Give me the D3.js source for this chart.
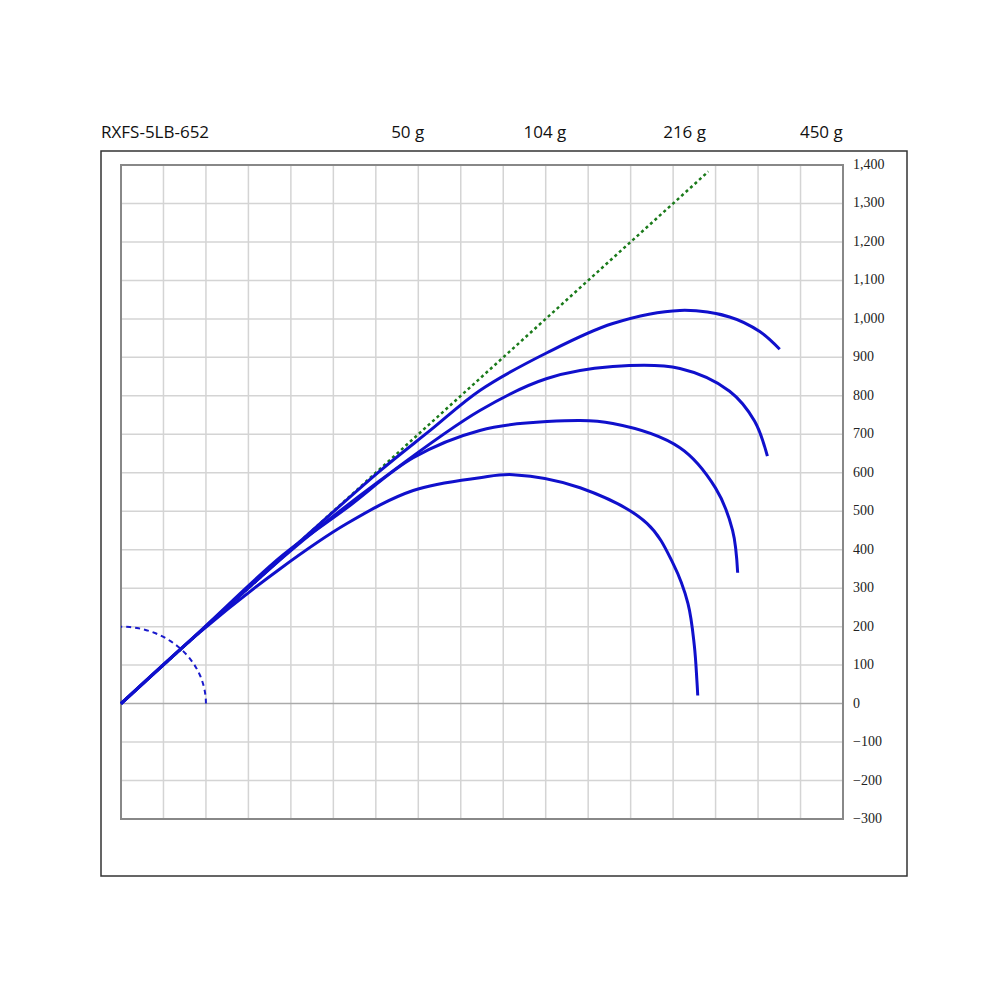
<!DOCTYPE html>
<html><head><meta charset="utf-8">
<script src="https://cdn.jsdelivr.net/npm/d3@7"></script>
<style>body{margin:0;background:#fff}</style>
</head><body>
<script>
// curve points [x, y] in chart units
const curve50 = [[0,0],[186,186],[374,350],[532,468],[688,554],[845,587],[923,595],[1081,561],[1239,468],[1300,364],[1335,260],[1350,150],[1356,60],[1358,21]];
const curve104 = [[0,0],[186,188],[380,385],[532,509],[688,639],[845,710],[1003,733],[1158,728],[1316,665],[1400,560],[1440,450],[1452,340]];
const curve216 = [[0,0],[200,201],[400,398],[610,580],[845,762],[1003,845],[1158,876],[1316,871],[1433,812],[1492,734],[1522,643]];
const curve450 = [[0,0],[200,201],[400,400],[610,605],[728,710],[845,814],[1003,912],[1158,988],[1316,1022],[1433,1005],[1504,967],[1551,921]];
const guideLine = [[0,0],[1383,1383]];
const arcRadius = 200;
const topLabels = ["50 g","104 g","216 g","450 g"];
const topLabelX = [675,998,1327,1649];
const yTicks = d3.range(-300,1401,100);
const title = "RXFS-5LB-652";

const w = 1000, h = 1000;
const svg = d3.select("body").append("svg").attr("width", w).attr("height", h);

const x = d3.scaleLinear().domain([0,1700]).range([121,843]);
const y = d3.scaleLinear().domain([-300,1400]).range([819,165]);

svg.append("rect").attr("x",101).attr("y",151).attr("width",806).attr("height",725)
  .attr("fill","none").attr("stroke","#333").attr("stroke-width",1.5);

// grid
svg.append("g").selectAll("line").data(d3.range(100,1700,100)).enter().append("line")
  .attr("x1",d=>x(d)).attr("x2",d=>x(d)).attr("y1",y(1400)).attr("y2",y(-300))
  .attr("stroke","#d4d4d4").attr("stroke-width",1.5);
svg.append("g").selectAll("line").data(yTicks.slice(1,-1)).enter().append("line")
  .attr("x1",x(0)).attr("x2",x(1700)).attr("y1",d=>y(d)).attr("y2",d=>y(d))
  .attr("stroke",d=>d===0?"#aaa":"#d4d4d4").attr("stroke-width",1.5);
svg.append("rect").attr("x",x(0)).attr("y",y(1400)).attr("width",x(1700)-x(0)).attr("height",y(-300)-y(1400))
  .attr("fill","none").attr("stroke","#888").attr("stroke-width",2);

// y axis labels
svg.append("g").selectAll("text").data(yTicks).enter().append("text")
  .attr("x",853).attr("y",d=>y(d)+4).text(d=>d3.format(",")(d))
  .attr("font-family","Liberation Serif").attr("font-size",14).attr("fill","#222");

svg.append("text").attr("x",101).attr("y",138).text(title)
  .attr("font-family","Open Sans").attr("font-size",17).attr("fill","#111");
svg.append("g").selectAll("text").data(topLabels).enter().append("text")
  .attr("x",(d,i)=>x(topLabelX[i])).attr("y",138).attr("text-anchor","middle").text(d=>d)
  .attr("font-family","Open Sans").attr("font-size",17).attr("fill","#111");

// arc
const arc = d3.range(0,91,3).map(a=>[arcRadius*Math.cos(a*Math.PI/180), arcRadius*Math.sin(a*Math.PI/180)]);
const line = d3.line().x(d=>x(d[0])).y(d=>y(d[1]));
svg.append("path").attr("d",line(arc)).attr("fill","none").attr("stroke","#1a1acc")
  .attr("stroke-width",2).attr("stroke-dasharray","5,4");

svg.append("path").attr("d",line(guideLine)).attr("fill","none").attr("stroke","#1a7a1a")
  .attr("stroke-width",2.5).attr("stroke-dasharray","3,3");

const smooth = d3.line().x(d=>x(d[0])).y(d=>y(d[1])).curve(d3.curveCatmullRom);
svg.append("g").selectAll("path").data([curve50,curve104,curve216,curve450]).enter().append("path")
  .attr("d",smooth).attr("fill","none").attr("stroke","#1010cc").attr("stroke-width",3);
</script>
</body></html>
